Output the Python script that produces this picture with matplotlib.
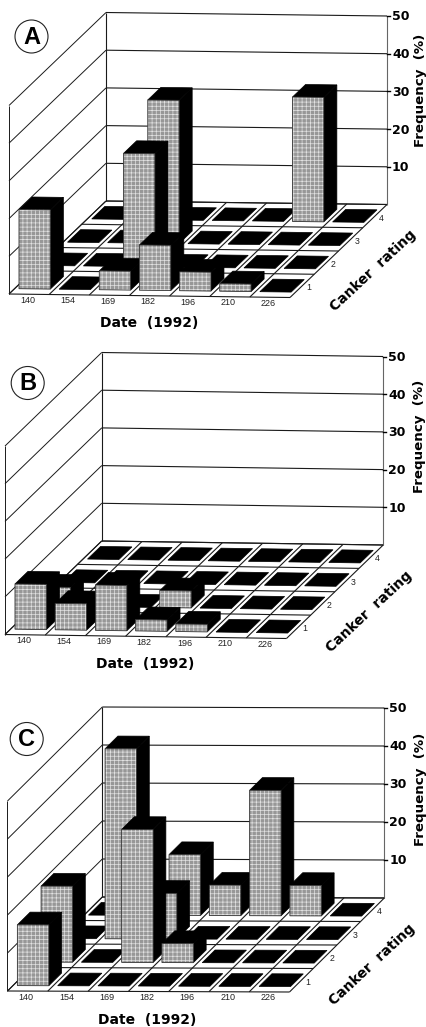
import numpy as np
import matplotlib
matplotlib.use("Agg")
import matplotlib.pyplot as plt
from matplotlib.patches import Polygon, Circle

W, H = 427, 1027
dates = ["140", "154", "169", "182", "196", "210", "226"]
ratings = ["1", "2", "3", "4"]
freq_ticks = [10, 20, 30, 40, 50]

# frequency per rating (rows) and date (columns)
panel_a = [[21, 0, 5, 12, 5, 2, 0],
           [0, 0, 30, 0, 0, 0, 0],
           [0, 0, 38, 0, 0, 0, 0],
           [0, 0, 0, 0, 0, 33, 0]]
panel_b = [[12, 7, 12, 3, 2, 0, 0],
           [5, 0, 0, 4.5, 0, 0, 0],
           [0, 0, 0, 0, 0, 0, 0],
           [0, 0, 0, 0, 0, 0, 0]]
panel_c = [[16, 0, 0, 0, 0, 0, 0],
           [20, 0, 35, 5, 0, 0, 0],
           [0, 50, 12, 0, 0, 0, 0],
           [0, 0, 16, 8, 33, 8, 0]]

# (name, data, front-left, front-right, back-left, back-right, px per unit, badge centre, freq-title offset)
panels = [("A", panel_a, (9, 294), (290, 297.5), (106, 201), (385, 203.5), 3.77, (31.5, 36.5), (34, -114)),
          ("B", panel_b, (5, 634.5), (286.5, 638.5), (101.7, 541), (381, 544), 3.77, (27.7, 383), (36, -109)),
          ("C", panel_c, (7.5, 991), (289.5, 992), (102.3, 897), (383.3, 898), 3.80, (26.7, 739), (36, -109))]

plt.rcParams["hatch.linewidth"] = 0.5
fig = plt.figure(figsize=(W / 100, H / 100), dpi=100, facecolor="white")
ax = fig.add_axes([0, 0, 1, 1])
ax.set_xlim(0, W)
ax.set_ylim(H, 0)
ax.axis("off")
LC = "#1a1a1a"


def draw_panel(name, data, fl, fr, bl, br, zs, badge, foff):
    fl, fr, bl, br = map(np.array, (fl, fr, bl, br))
    nx, ny = len(dates), len(ratings)
    ux = (fr - fl) / nx
    uy = (bl - fl) / ny

    def P(i, j, z=0.0):
        p = fl + ux * i + uy * j
        return (p[0], p[1] - z * zs)

    def line(a, b, lw=0.8, c=LC):
        ax.plot([a[0], b[0]], [a[1], b[1]], color=c, lw=lw, solid_capstyle="butt", zorder=1)

    # walls
    zmax = max(freq_ticks)
    for z in [0] + freq_ticks:
        line(P(0, 0, z), P(0, ny, z), 0.7)
        line(P(0, ny, z), P(nx, ny, z), 0.8)
    line(P(0, 0, 0), P(0, 0, zmax), 0.7)
    line(P(0, ny, 0), P(0, ny, zmax), 0.8)
    line(P(nx, ny, 0), P(nx, ny, zmax), 0.8, "#666666")
    # floor grid
    for i in range(nx + 1):
        line(P(i, 0), P(i, ny), 0.8)
    for j in range(ny + 1):
        line(P(0, j), P(nx, j), 0.8)

    # bars, back to front
    zo = 2
    for j in range(ny - 1, -1, -1):
        for i in range(nx):
            v = data[j][i]
            x0, x1 = i + 0.11, i + 0.89
            y0, y1 = j + 0.23, j + 0.77
            top = [P(x0, y0, v), P(x1, y0, v), P(x1, y1, v), P(x0, y1, v)]
            ax.add_patch(Polygon(top, closed=True, fc="black", ec="black", lw=0.5, zorder=zo))
            if v > 0:
                side = [P(x1, y0, 0), P(x1, y1, 0), P(x1, y1, v), P(x1, y0, v)]
                ax.add_patch(Polygon(side, closed=True, fc="black", ec="black", lw=0.5, zorder=zo))
                front = [P(x0, y0, 0), P(x1, y0, 0), P(x1, y0, v), P(x0, y0, v)]
                ax.add_patch(Polygon(front, closed=True, fc="#979797", ec="#e2e2e2", lw=0,
                                     hatch="++++", zorder=zo + 0.1))
                ax.add_patch(Polygon(front, closed=True, fc="none", ec="#333333", lw=0.6, zorder=zo + 0.2))
            zo += 1

    # date labels
    for i, d in enumerate(dates):
        p = P(i + 0.5, 0)
        ax.text(p[0] - 1.5, p[1] + 6, d, fontsize=6.5, ha="center", va="center", color="#222222",
                family="Liberation Sans")
    # rating labels
    for j, r in enumerate(ratings):
        p = P(nx, j + 0.5)
        ax.text(p[0] + 6.5, p[1] + 2, r, fontsize=6.3, ha="center", va="center", color="#222222",
                family="Liberation Sans")
    # frequency ticks and labels
    for z in freq_ticks:
        p = P(nx, ny, z)
        ax.plot([p[0], p[0] + 3], [p[1], p[1]], color="black", lw=1.0, zorder=1)
        ax.text(p[0] + 5, p[1] + 1, str(z), fontsize=9, fontweight="bold", ha="left", va="center",
                family="DejaVu Sans")
    # axis titles
    tr = P(nx, ny, 0)
    ax.text(tr[0] + foff[0], tr[1] + foff[1], "Frequency  (%)", rotation=90, fontsize=9.6, fontweight="bold",
            ha="center", va="center", family="DejaVu Sans")
    ax.text(fl[0] + 140, fl[1] + 29, "Date  (1992)", fontsize=10, fontweight="bold",
            ha="center", va="center", family="DejaVu Sans")
    ax.text(fr[0] + 83, fr[1] - 27, "Canker  rating", rotation=43, rotation_mode="anchor", fontsize=10,
            fontweight="bold", ha="center", va="center", family="DejaVu Sans")
    # badge
    ax.add_patch(Circle(badge, 16.5, fc="white", ec="#222222", lw=0.8, zorder=200))
    ax.text(badge[0], badge[1] + 0.5, name, fontsize=17, fontweight="bold", ha="center", va="center",
            family="Liberation Sans", zorder=201)


for pn in panels:
    draw_panel(*pn)

fig.savefig("out.png", dpi=100, facecolor="white")
